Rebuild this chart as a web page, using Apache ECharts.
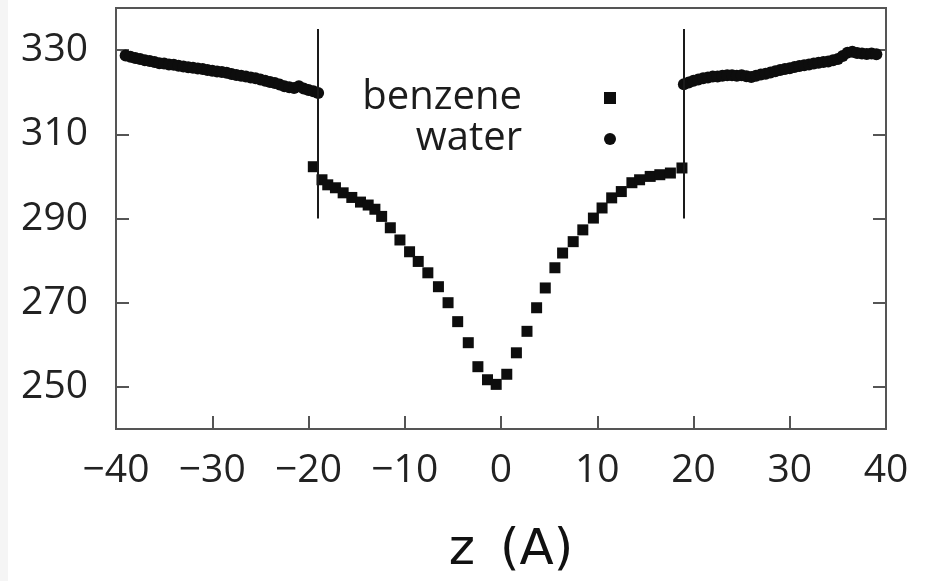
<!DOCTYPE html>
<html>
<head>
<meta charset="utf-8">
<script src="https://cdn.jsdelivr.net/npm/echarts@6/dist/echarts.min.js"></script>
<style>
  html, body { margin: 0; padding: 0; background: #ffffff; }
  #chart { width: 935px; height: 581px; }
</style>
</head>
<body>
<div id="chart"></div>
<script>
// Water profile, both bulk regions (z in Å)
const waterZ = [
  -39, -38.5, -38, -37.5, -37, -36.5, -36, -35.5, -35, -34.5, -34, -33.5, -33, -32.5,
  -32, -31.5, -31, -30.5, -30, -29.5, -29, -28.5, -28, -27.5, -27, -26.5, -26, -25.5,
  -25, -24.5, -24, -23.5, -23, -22.5, -22, -21.5, -21, -20.5, -20, -19.5, -19,
  19, 19.5, 20, 20.5, 21, 21.5, 22, 22.5, 23, 23.5, 24, 24.5, 25, 25.5,
  26, 26.5, 27, 27.5, 28, 28.5, 29, 29.5, 30, 30.5, 31, 31.5, 32, 32.5,
  33, 33.5, 34, 34.5, 35, 35.5, 36, 36.5, 37, 37.5, 38, 38.5, 39
];
const waterValues = [
  328.7, 328.4, 328.1, 327.9, 327.6, 327.4, 327.2, 326.9, 326.8, 326.6, 326.5, 326.3, 326.1, 325.9,
  325.8, 325.6, 325.5, 325.3, 325.1, 324.9, 324.8, 324.6, 324.3, 324.1, 323.9, 323.7, 323.5, 323.3,
  323.0, 322.7, 322.4, 322.2, 321.8, 321.4, 321.2, 321.0, 321.4, 320.9, 320.5, 320.2, 319.8,
  321.9, 322.3, 322.7, 323.0, 323.3, 323.5, 323.7, 323.7, 323.9, 324.0, 324.0, 323.9, 324.0, 323.8,
  323.6, 323.9, 324.2, 324.4, 324.7, 325.0, 325.3, 325.5, 325.7, 326.0, 326.2, 326.4, 326.6, 326.8,
  327.0, 327.2, 327.3, 327.6, 327.9, 328.6, 329.4, 329.6, 329.3, 329.2, 329.1, 329.2, 329.0
];

// Benzene slab profile
const benzeneZ = [
  -19.5, -18.6, -18.0, -17.2, -16.4, -15.5, -14.6, -13.8, -13.1, -12.4, -11.5, -10.5, -9.5, -8.6,
  -7.6, -6.5, -5.5, -4.5, -3.4, -2.4, -1.4, -0.5, 0.6, 1.6, 2.7, 3.7, 4.6, 5.6, 6.4, 7.5,
  8.5, 9.6, 10.5, 11.5, 12.5, 13.6, 14.4, 15.5, 16.5, 17.6, 18.8
];
const benzeneValues = [
  302.3, 299.2, 298.0, 297.3, 296.1, 295.0, 293.9, 293.2, 292.2, 290.5, 287.8, 284.9, 282.1, 279.8,
  277.1, 273.8, 270.0, 265.5, 260.5, 254.8, 251.7, 250.6, 253.0, 258.1, 263.2, 268.8, 273.5, 278.3, 281.8, 284.5,
  287.3, 290.1, 292.5, 294.9, 296.4, 298.5, 299.2, 300.0, 300.4, 300.8, 302.0
];

// Axis ranges and ticks
const xRange = [-40, 40];
const xStep = 10;
const yRange = [240, 340];
const yTicks = [250, 270, 290, 310, 330];

// Interface positions and the vertical extent of their markers
const interfaceZ = [-19, 19];
const interfaceSpan = [290, 335];

const zip = (xs, ys) => xs.map((x, i) => [x, ys[i]]);

const axisColor = '#555555';
const textColor = '#222222';
const markColor = '#0d0d0d';
const tickFont = { fontFamily: 'Open Sans', fontSize: 39, color: textColor };

const chart = echarts.init(document.getElementById('chart'), null, { renderer: 'canvas' });

chart.setOption({
  animation: false,
  backgroundColor: '#ffffff',
  grid: {
    left: 116, right: 49, top: 8, bottom: 150,
    show: true, borderColor: axisColor, borderWidth: 2, backgroundColor: 'transparent'
  },
  legend: {
    orient: 'vertical',
    align: 'right',
    right: 319,
    top: 78,
    padding: 0,
    itemGap: 1,
    itemWidth: 12,
    itemHeight: 12,
    selectedMode: false,
    textStyle: {
      fontFamily: 'Open Sans', fontSize: 40, color: '#1c1c1c',
      lineHeight: 28, padding: [0, 77, 0, 0]
    },
    data: [
      { name: 'benzene', icon: 'rect', itemStyle: { color: markColor, opacity: 1 } },
      { name: 'water', icon: 'circle', itemStyle: { color: markColor, opacity: 1 } }
    ]
  },
  xAxis: {
    type: 'value',
    min: xRange[0], max: xRange[1], interval: xStep,
    name: 'z\u2002(A)',
    nameLocation: 'middle',
    nameGap: 97,
    nameTextStyle: { fontFamily: 'DejaVu Sans', fontSize: 50, color: '#111111', padding: [0, 0, 0, 20] },
    axisLine: { show: true, onZero: false, lineStyle: { color: axisColor, width: 2 } },
    axisTick: { show: true, inside: true, length: 13, lineStyle: { color: axisColor, width: 2 } },
    axisLabel: {
      ...tickFont, margin: 22, lineHeight: 39,
      formatter: v => (v < 0 ? '\u2212' + Math.abs(v) : String(v))
    },
    splitLine: { show: false }
  },
  yAxis: [
    {
      type: 'value', position: 'left',
      min: yRange[0], max: yRange[1],
      axisLine: { show: true, onZero: false, lineStyle: { color: axisColor, width: 2 } },
      axisTick: { show: true, inside: true, length: 13, customValues: yTicks, lineStyle: { color: axisColor, width: 2 } },
      axisLabel: { ...tickFont, margin: 28, customValues: yTicks },
      splitLine: { show: false }
    },
    {
      type: 'value', position: 'right',
      min: yRange[0], max: yRange[1],
      axisLine: { show: true, onZero: false, lineStyle: { color: axisColor, width: 2 } },
      axisTick: { show: true, inside: true, length: 13, customValues: yTicks, lineStyle: { color: axisColor, width: 2 } },
      axisLabel: { show: false },
      splitLine: { show: false }
    }
  ],
  graphic: [
    { type: 'rect', left: 0, top: 0, shape: { width: 8, height: 581 }, style: { fill: '#f5f5f5' }, silent: true }
  ],
  series: [
    {
      name: 'benzene',
      type: 'scatter',
      symbol: 'rect',
      symbolSize: 11,
      itemStyle: { color: markColor, opacity: 1 },
      data: zip(benzeneZ, benzeneValues),
      markLine: {
        silent: true,
        symbol: 'none',
        label: { show: false },
        lineStyle: { color: '#1a1a1a', width: 2, type: 'solid' },
        data: interfaceZ.map(z => [
          { coord: [z, interfaceSpan[0]] },
          { coord: [z, interfaceSpan[1]] }
        ])
      },
      z: 3
    },
    {
      name: 'water',
      type: 'scatter',
      symbol: 'circle',
      symbolSize: 12,
      itemStyle: { color: markColor, opacity: 1 },
      data: zip(waterZ, waterValues),
      z: 3
    }
  ]
});
</script>
</body>
</html>
